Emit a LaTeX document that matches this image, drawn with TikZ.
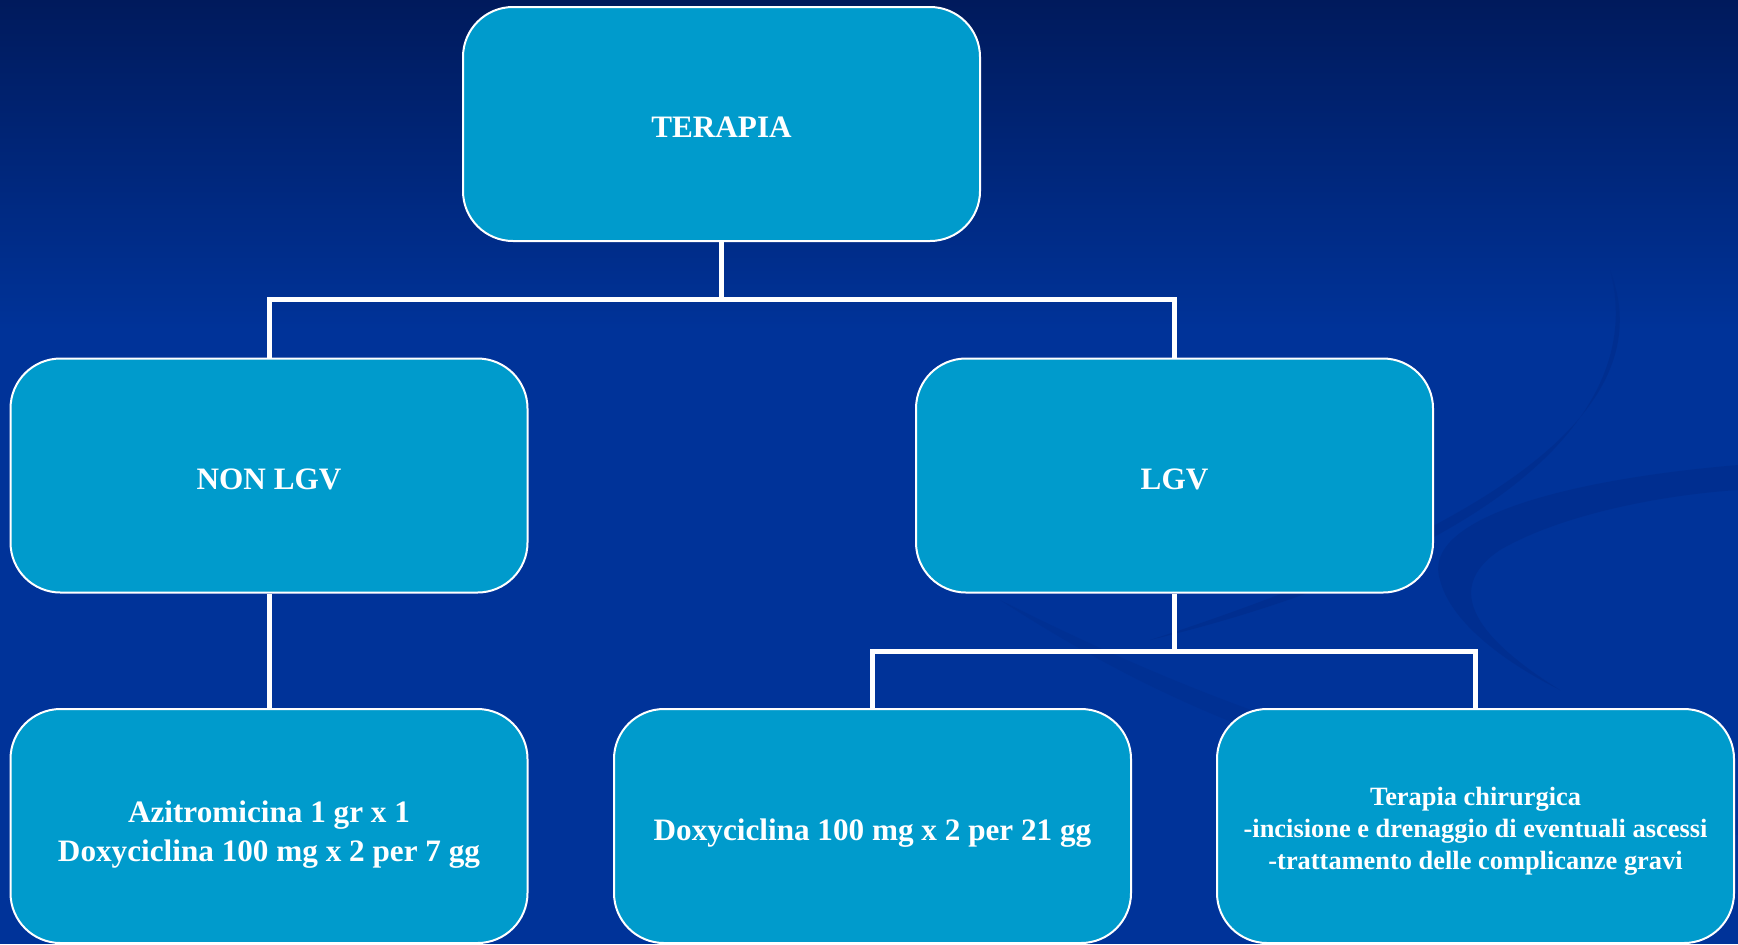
\documentclass[tikz,border=0pt]{standalone}
\usepackage{fontspec}
\setmainfont{Liberation Serif}
\usepackage{tikz}
\usetikzlibrary{calc}
\definecolor{navytop}{RGB}{0,26,92}
\definecolor{navybot}{RGB}{0,51,153}
\definecolor{swoosh}{RGB}{0,44,138}
\definecolor{boxcol}{RGB}{0,155,204}
\tikzset{
	tbox/.style={draw=white, line width=1pt, fill=boxcol, rounded corners=25pt,
		minimum width=258.5pt, minimum height=117pt, inner sep=0pt},
	ttext/.style={text=white, align=center, inner sep=0pt,
		font=\fontsize{15.6}{19.5}\selectfont\bfseries},
	smalltext/.style={font=\fontsize{13.2}{16}\selectfont\bfseries},
	tline/.style={draw=white, line width=2.5pt}
}

\begin{document}
\begin{tikzpicture}[x=0.5pt, y=-0.5pt]
			%%%%% START %%%%%
			
			\useasboundingbox (0, 0) rectangle (1738, 944);
			\shade[top color=navytop, bottom color=navybot] (0, 0) rectangle (1738, 330);
			\fill[navybot] (0, 329) rectangle (1738, 944);
			
			% swooshes
			\fill[swoosh, opacity=0.6] (1610, 270) .. controls (1660, 400) and (1520, 520) .. (1150, 640)
				.. controls (1480, 560) and (1650, 420) .. (1610, 270);
			\fill[swoosh, opacity=0.6] (1738, 465) .. controls (1560, 480) and (1420, 520) .. (1440, 580)
				.. controls (1450, 620) and (1500, 660) .. (1560, 690)
				.. controls (1480, 640) and (1440, 590) .. (1500, 550)
				.. controls (1560, 515) and (1660, 495) .. (1738, 490) -- cycle;
			\fill[swoosh, opacity=0.4] (1000, 600) .. controls (1200, 700) and (1400, 780) .. (1738, 820)
				-- (1738, 835) .. controls (1400, 800) and (1200, 730) .. (1000, 600);
			
			\node[tbox, label={[ttext, yshift=-1.7pt]center:TERAPIA}] (terapia) at (721.5, 124) {};
			
			\node[tbox, label={[ttext, yshift=-1.7pt]center:NON LGV}] (nonlgv) at (269, 475.5) {};
			\node[tbox, label={[ttext, yshift=-1.7pt]center:LGV}] (lgv) at (1174.5, 475.5) {};
			
			\node[tbox, label={[ttext, yshift=-4.2pt]center:{Azitromicina 1 gr x 1\\Doxyciclina 100 mg x 2 per 7 gg}}] (azitro) at (269, 826) {};
			\node[tbox, label={[ttext, yshift=-3.3pt]center:Doxyciclina 100 mg x 2 per 21 gg}] (doxy) at (872.5, 826) {};
			\node[tbox, label={[ttext, smalltext, yshift=-2.8pt]center:{Terapia chirurgica\\-incisione e drenaggio di eventuali ascessi\\-trattamento delle complicanze gravi}}] (chir) at (1475.5, 826) {};
			
			\draw[tline] (terapia.south) -- (721.5, 299) -| (nonlgv.north);
			\draw[tline] (721.5, 299) -| (lgv.north);
			\draw[tline] (nonlgv.south) -- (azitro.north);
			\draw[tline] (lgv.south) -- (1174.5, 651) -| (doxy.north);
			\draw[tline] (1174.5, 651) -| (chir.north);
			
			%%%%% END %%%%%
\end{tikzpicture}
\end{document}
